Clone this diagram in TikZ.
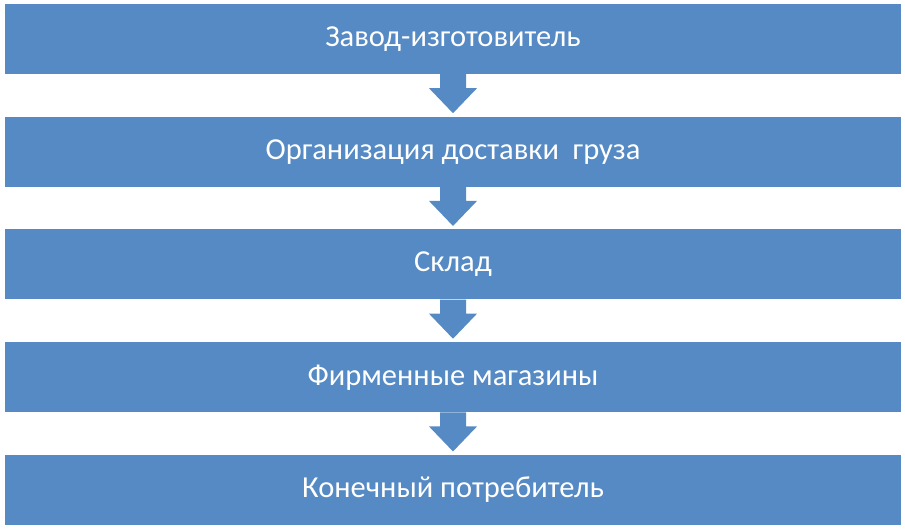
\documentclass[tikz,border=0pt]{standalone}
\usepackage{fontspec}
\setmainfont{Carlito}
\usetikzlibrary{calc}
\definecolor{boxblue}{RGB}{85,138,196}
\tikzset{
  flowbox/.style={fill=boxblue, draw=none, minimum width=896pt, minimum height=70pt,
    inner sep=0pt, text=white, font=\fontsize{30.5}{36}\selectfont},
  blockarrow/.style={fill=boxblue, draw=none}
}
\newcommand{\downarrowfrom}[1]{%
  \fill[blockarrow] ($(#1.south)+(-13,0)$) -- ($(#1.south)+(-13,-14)$) -- ($(#1.south)+(-24,-14)$)
    -- ($(#1.south)+(0,-39)$) -- ($(#1.south)+(24,-14)$) -- ($(#1.south)+(13,-14)$)
    -- ($(#1.south)+(13,0)$) -- cycle;}
\begin{document}
\begin{tikzpicture}[x=1pt,y=1pt]
\useasboundingbox (0,0) rectangle (905,528);
\node[flowbox] (b1) at (453,489) {Завод-изготовитель};
\node[flowbox] (b2) at (453,376.25) {Организация доставки\hspace{0.45em}груза};
\node[flowbox] (b3) at (453,263.5) {Склад};
\node[flowbox] (b4) at (453,150.75) {Фирменные магазины};
\node[flowbox] (b5) at (453,38.5) {Конечный потребитель};
\downarrowfrom{b1}
\downarrowfrom{b2}
\downarrowfrom{b3}
\downarrowfrom{b4}
\end{tikzpicture}
\end{document}
